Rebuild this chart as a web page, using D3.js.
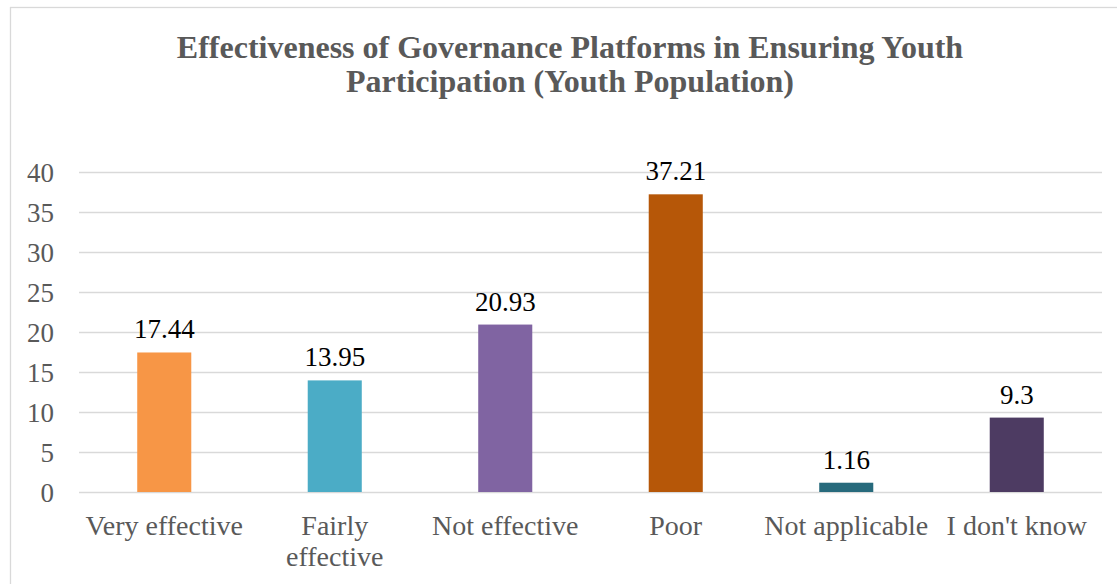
<!DOCTYPE html>
<html>
<head>
<meta charset="utf-8">
<script src="https://cdn.jsdelivr.net/npm/d3@7/dist/d3.min.js"></script>
<style>
  html, body { margin: 0; padding: 0; background: #ffffff; }
  svg { display: block; }
</style>
</head>
<body>
<svg id="chart" width="1117" height="584"></svg>
<script>
// Survey shares (%) by response category
const categories = ["Very effective", "Fairly effective", "Not effective", "Poor", "Not applicable", "I don't know"];
const values = [17.44, 13.95, 20.93, 37.21, 1.16, 9.3];
const valueLabels = ["17.44", "13.95", "20.93", "37.21", "1.16", "9.3"];
const barColors = ["#F79646", "#4BACC6", "#8064A2", "#B65708", "#276A7C", "#4D3B62"];
const yTicks = [0, 5, 10, 15, 20, 25, 30, 35, 40];
const titleLines = ["Effectiveness of Governance Platforms in Ensuring Youth", "Participation (Youth Population)"];

const svg = d3.select("#chart");
const plot = { left: 79, right: 1102, top: 172, bottom: 492 };
const fontStack = '"Liberation Serif"';

// Chart frame
svg.append("rect")
  .attr("x", 10.5).attr("y", 7.5)
  .attr("width", 1130).attr("height", 600)
  .attr("fill", "#ffffff")
  .attr("stroke", "#d9d9d9")
  .attr("stroke-width", 1.3);

// Title
svg.append("text")
  .attr("x", 570)
  .attr("text-anchor", "middle")
  .attr("font-family", fontStack)
  .attr("font-size", 32)
  .attr("font-weight", "bold")
  .attr("fill", "#595959")
  .selectAll("tspan")
  .data(titleLines)
  .join("tspan")
  .attr("x", 570)
  .attr("y", (d, i) => 58 + i * 34)
  .text(d => d);

const x = d3.scaleBand()
  .domain(categories)
  .range([plot.left, plot.right])
  .paddingInner(0.683)
  .paddingOuter(0.683 / 2);

const y = d3.scaleLinear()
  .domain([0, 40])
  .range([plot.bottom, plot.top]);

// Horizontal gridlines
const grid = svg.append("g")
  .attr("transform", `translate(${plot.left},0)`)
  .call(d3.axisLeft(y).tickValues(yTicks).tickSize(-(plot.right - plot.left)).tickFormat(""));
grid.select(".domain").remove();
grid.selectAll(".tick line").attr("stroke", "#d9d9d9").attr("stroke-width", 1.3);

// Y axis labels
const yAxis = svg.append("g")
  .attr("transform", `translate(${plot.left},0)`)
  .call(d3.axisLeft(y).tickValues(yTicks).tickSize(0).tickPadding(25));
yAxis.select(".domain").remove();
yAxis.attr("font-family", fontStack).attr("font-size", 27);
yAxis.selectAll(".tick text")
  .attr("fill", "#595959")
  .attr("dy", "0.36em");

// Bars
svg.append("g")
  .selectAll("rect")
  .data(values)
  .join("rect")
  .attr("x", (d, i) => x(categories[i]))
  .attr("width", x.bandwidth())
  .attr("y", d => y(d))
  .attr("height", d => y(0) - y(d))
  .attr("fill", (d, i) => barColors[i]);

// Value labels above bars
svg.append("g")
  .attr("font-family", fontStack)
  .attr("font-size", 27)
  .selectAll("text")
  .data(values)
  .join("text")
  .attr("x", (d, i) => x(categories[i]) + x.bandwidth() / 2)
  .attr("y", d => y(d) - 14)
  .attr("text-anchor", "middle")
  .attr("fill", "#000000")
  .text((d, i) => valueLabels[i]);

// X axis category labels, wrapped to the category width
const xAxis = svg.append("g")
  .attr("transform", `translate(0,${plot.bottom})`)
  .call(d3.axisBottom(x).tickSize(0).tickPadding(0));
xAxis.select(".domain").remove();
xAxis.attr("font-family", fontStack).attr("font-size", 28);
xAxis.selectAll(".tick text")
  .attr("fill", "#595959")
  .attr("y", 0)
  .attr("dy", 0)
  .each(function(d) {
    const t = d3.select(this);
    const maxW = x.step() * 0.985;
    const words = d.split(" ");
    t.text(null);
    const lines = [];
    let line = [];
    const probe = t.append("tspan");
    for (const w of words) {
      line.push(w);
      probe.text(line.join(" "));
      if (probe.node().getComputedTextLength() > maxW && line.length > 1) {
        line.pop();
        lines.push(line.join(" "));
        line = [w];
      }
    }
    lines.push(line.join(" "));
    probe.remove();
    lines.forEach((l, i) => {
      t.append("tspan").attr("x", 0).attr("y", 42.5 + i * 31.7).text(l);
    });
  });
</script>
</body>
</html>
